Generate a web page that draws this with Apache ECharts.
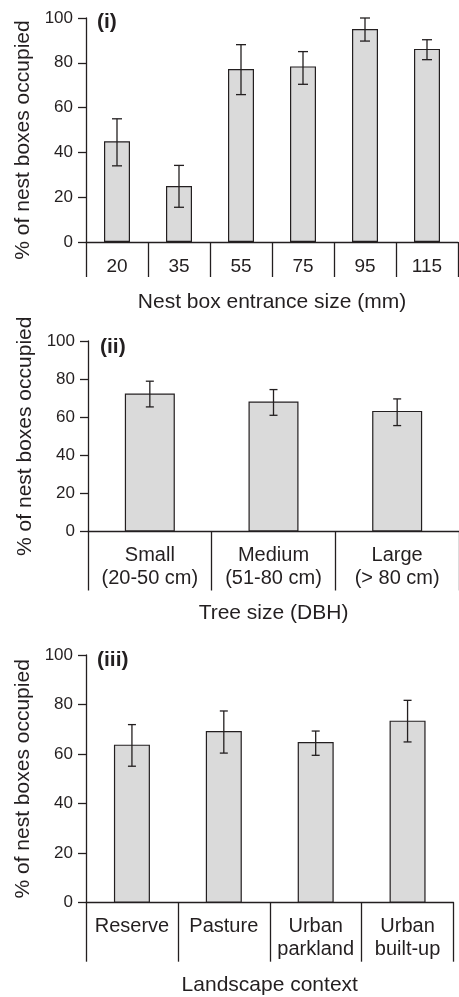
<!DOCTYPE html>
<html>
<head>
<meta charset="utf-8">
<style>
  html, body { margin: 0; padding: 0; background: #fff; }
  #chart { width: 459px; height: 997px; }
</style>
<script src="https://cdn.jsdelivr.net/npm/echarts@6/dist/echarts.min.js"></script>
</head>
<body>
<div id="chart"></div>
<script>
// ---- Data ----
const entranceSizes = ['20', '35', '55', '75', '95', '115'];
const entranceMean  = [45, 25, 77.2, 78.4, 95.1, 86.2];
const entranceUpper = [55, 34.2, 88.1, 85, 100, 90.3];
const entranceLower = [34, 15.5, 65.8, 70.4, 89.7, 81.4];

const treeSizes = ['Small\n(20-50 cm)', 'Medium\n(51-80 cm)', 'Large\n(> 80 cm)'];
const treeMean  = [72.4, 68.2, 63.3];
const treeUpper = [78.9, 74.5, 69.6];
const treeLower = [65.4, 61.0, 55.6];

const landscapes = ['Reserve', 'Pasture', 'Urban\nparkland', 'Urban\nbuilt-up'];
const landMean  = [63.8, 69.3, 64.9, 73.5];
const landUpper = [71.9, 77.4, 69.3, 81.7];
const landLower = [55.1, 60.4, 59.5, 64.9];

const yTicks = [0, 20, 40, 60, 80, 100];

// ---- Styles ----
const FONT = 'Liberation Sans, Arial, Helvetica, sans-serif';
const INK = '#231f20';
const BAR_FILL = '#dadada';

const panels = [
  { cats: entranceSizes, mean: entranceMean, up: entranceUpper, lo: entranceLower,
    grid: { left: 86, top: 18, width: 372, height: 224 },
    xName: 'Nest box entrance size (mm)', tickLen: 35, labelMargin: 13, labelSize: 19, nameGap: 50,
    barWidth: 26, cap: 10, yNamePad: [0, 20, 0, 0], tag: '(i)', tagPos: [97, 12] },
  { cats: treeSizes, mean: treeMean, up: treeUpper, lo: treeLower,
    grid: { left: 88, top: 341, width: 371, height: 190.5 },
    xName: 'Tree size (DBH)', tickLen: 59, labelMargin: 12, labelSize: 20, nameGap: 71,
    barWidth: 50, cap: 8, yNamePad: [0, 0, 0, 0], tag: '(ii)', tagPos: [100, 337] },
  { cats: landscapes, mean: landMean, up: landUpper, lo: landLower,
    grid: { left: 86, top: 655, width: 367.5, height: 247.7 },
    xName: 'Landscape context', tickLen: 59, labelMargin: 12, labelSize: 20, nameGap: 72,
    barWidth: 36, cap: 8, yNamePad: [0, 0, 0, 0], tag: '(iii)', tagPos: [97, 650] }
];

const grids = [], xAxes = [], yAxes = [], series = [], titles = [];

panels.forEach((p, i) => {
  grids.push(Object.assign({ containLabel: false }, p.grid));
  xAxes.push({
    type: 'category', gridIndex: i, data: p.cats,
    boundaryGap: true,
    name: p.xName, nameLocation: 'middle', nameGap: p.nameGap, nameMoveOverlap: false,
    nameTextStyle: { fontFamily: FONT, fontSize: 21, color: INK },
    axisLine: { show: true, lineStyle: { color: INK, width: 1.3 } },
    axisTick: { show: true, length: p.tickLen, interval: 0, lineStyle: { color: INK, width: 1.3 } },
    axisLabel: { interval: 0, margin: p.labelMargin, fontFamily: FONT, fontSize: p.labelSize, color: INK, lineHeight: 23 },
    splitLine: { show: false }
  });
  yAxes.push({
    type: 'value', gridIndex: i, min: yTicks[0], max: yTicks[yTicks.length - 1], interval: 20,
    name: '% of nest boxes occupied', nameLocation: 'middle', nameGap: 52, nameMoveOverlap: false,
    nameTextStyle: { fontFamily: FONT, fontSize: 21, color: INK, padding: p.yNamePad },
    axisLine: { show: true, lineStyle: { color: INK, width: 1.3 } },
    axisTick: { show: true, length: 8, lineStyle: { color: INK, width: 1.3 } },
    axisLabel: { margin: 13, fontFamily: FONT, fontSize: 17, color: INK },
    splitLine: { show: false }
  });
  series.push({
    type: 'bar', xAxisIndex: i, yAxisIndex: i, data: p.mean, barWidth: p.barWidth,
    itemStyle: { color: BAR_FILL, borderColor: INK, borderWidth: 1.2 },
    silent: true, z: 2
  });
  const errData = p.cats.map((c, k) => [k, p.lo[k], p.up[k]]);
  const cap = p.cap;
  series.push({
    type: 'custom', xAxisIndex: i, yAxisIndex: i, data: errData, z: 5, silent: true,
    encode: { x: 0, y: [1, 2] },
    renderItem: function (params, api) {
      const k = api.value(0);
      const lo = api.coord([k, api.value(1)]);
      const hi = api.coord([k, api.value(2)]);
      const st = { stroke: INK, lineWidth: 1.3 };
      return {
        type: 'group',
        children: [
          { type: 'line', shape: { x1: lo[0], y1: lo[1], x2: hi[0], y2: hi[1] }, style: st },
          { type: 'line', shape: { x1: hi[0] - cap / 2, y1: hi[1], x2: hi[0] + cap / 2, y2: hi[1] }, style: st },
          { type: 'line', shape: { x1: lo[0] - cap / 2, y1: lo[1], x2: lo[0] + cap / 2, y2: lo[1] }, style: st }
        ]
      };
    }
  });
  titles.push({
    text: p.tag, left: p.tagPos[0], top: p.tagPos[1], padding: 0,
    textStyle: { fontFamily: FONT, fontSize: 21, fontWeight: 'bold', color: INK }
  });
});

const chart = echarts.init(document.getElementById('chart'), null, { renderer: 'canvas' });
chart.setOption({
  animation: false,
  backgroundColor: '#ffffff',
  title: titles,
  grid: grids,
  xAxis: xAxes,
  yAxis: yAxes,
  series: series
});
</script>
</body>
</html>
